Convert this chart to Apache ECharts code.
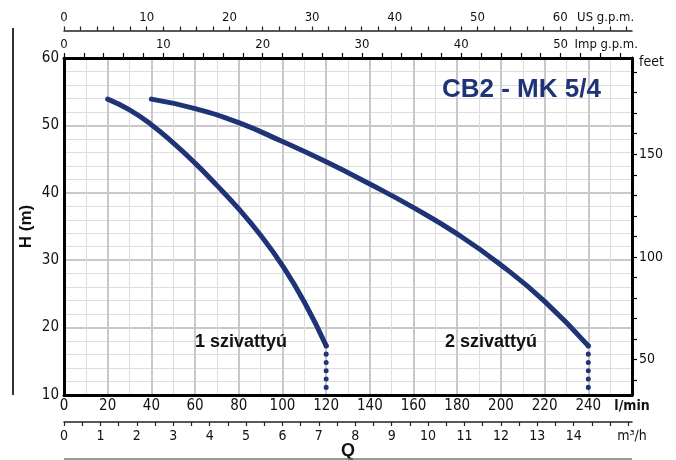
<!DOCTYPE html>
<html><head><meta charset="utf-8">
<script src="https://cdn.jsdelivr.net/npm/echarts@6/dist/echarts.min.js"></script>
<style>html,body{margin:0;padding:0;background:#fff}#c{width:676px;height:460px}</style>
</head><body><div id="c"></div>
<script>
// ---- data ----
const flowSingle = [20, 30, 40, 50, 60, 70, 80, 90, 100, 110, 120];       // l/min
const headSingle = [53.9, 52.3, 50.1, 47.4, 44.4, 41.1, 37.6, 33.7, 29.2, 23.8, 17.3]; // m
const flowDouble = [40, 60, 80, 100, 120, 140, 160, 180, 200, 220, 240];
const headDouble = [53.9, 52.5, 50.4, 47.6, 44.6, 41.3, 37.8, 33.9, 29.3, 23.9, 17.3];
const dropFlowSingle = [120, 120];
const dropFlowDouble = [240, 240];
const dropHead = [17.3, 10];

const seriesNames = ['1 szivattyú', '2 szivattyú'];
const chartTitle = 'CB2 - MK 5/4';

// tick labels
const usLabels = [0, 10, 20, 30, 40, 50, 60];
const impLabels = [0, 10, 20, 30, 40, 50];
const m3hLabels = [0, 1, 2, 3, 4, 5, 6, 7, 8, 9, 10, 11, 12, 13, 14];
const feetLabels = [50, 100, 150];

// unit conversions (l/min -> other units, m -> ft)
const L_PER_USGAL = 3.78541, L_PER_IMPGAL = 4.54609, M3H_PER_LMIN = 0.06, FT_PER_M = 3.28084;
const Q_MIN = 0, Q_MAX = 260, H_MIN = 10, H_MAX = 60;

const COND = '"Liberation Sans Narrow", "DejaVu Sans Condensed", sans-serif';
const BOLD = '"Liberation Sans", Arial, sans-serif';
const BLUE = '#1f3477';

function range(a, b, step) { const r = []; for (let v = a; v <= b + 1e-9; v += step) r.push(+v.toFixed(4)); return r; }

const usMax = Q_MAX / L_PER_USGAL, impMax = Q_MAX / L_PER_IMPGAL, m3hMax = Q_MAX * M3H_PER_LMIN;
const ftMin = H_MIN * FT_PER_M, ftMax = H_MAX * FT_PER_M;
const US_NAME_AT = 65.5, IMP_NAME_AT = 54.6, FEET_NAME_AT = 194.9;

const chart = echarts.init(document.getElementById('c'), null, { renderer: 'canvas' });
chart.setOption({
  animation: false,
  backgroundColor: '#fff',
  grid: { left: 64, right: 44, top: 58, bottom: 65, containLabel: false, outerBoundsMode: 'none' },
  xAxis: [
    { // l/min main axis
      type: 'value', position: 'bottom', min: Q_MIN, max: Q_MAX, interval: 20,
      axisLine: { show: true, onZero: false, lineStyle: { color: '#000', width: 3 } },
      axisTick: { show: false },
      minorTick: { show: false, splitNumber: 2 },
      splitLine: { show: true, lineStyle: { color: '#c8c8c8', width: 2 } },
      minorSplitLine: { show: true, lineStyle: { color: '#dedede', width: 1 } },
      axisLabel: {
        margin: 4, fontFamily: COND, fontSize: 15, color: '#111',
        formatter: v => v === Q_MAX ? '{u|l/min}' : String(v),
        rich: { u: { fontFamily: COND, fontWeight: 'bold', fontSize: 14, color: '#111' } }
      }
    },
    { // Imp g.p.m. (plot top border)
      type: 'value', position: 'top', offset: 0, min: 0, max: impMax,
      axisLine: { show: true, onZero: false, lineStyle: { color: '#000', width: 3 } },
      axisTick: { show: true, length: 5, customValues: range(0, 56, 2), lineStyle: { color: '#000', width: 1.2 } },
      splitLine: { show: false },
      axisLabel: {
        margin: 7, fontFamily: COND, fontSize: 13, color: '#111',
        customValues: impLabels.concat([IMP_NAME_AT]),
        formatter: v => v === IMP_NAME_AT ? 'Imp g.p.m.' : String(v)
      }
    },
    { // US g.p.m.
      type: 'value', position: 'top', offset: 27.5, min: 0, max: usMax,
      axisLine: { show: true, onZero: false, lineStyle: { color: '#222', width: 1.5 } },
      axisTick: { show: true, length: 4, customValues: range(0, 68, 2), lineStyle: { color: '#222', width: 1.2 } },
      splitLine: { show: false },
      axisLabel: {
        margin: 6, fontFamily: COND, fontSize: 13, color: '#111',
        customValues: usLabels.concat([US_NAME_AT]),
        formatter: v => v === US_NAME_AT ? 'US g.p.m.' : String(v)
      }
    },
    { // m3/h
      type: 'value', position: 'bottom', offset: 27, min: 0, max: m3hMax,
      name: 'Q', nameLocation: 'middle', nameGap: 20, nameMoveOverlap: false,
      nameTextStyle: { fontFamily: BOLD, fontWeight: 'bold', fontSize: 18, color: '#111' },
      axisLine: { show: true, onZero: false, lineStyle: { color: '#222', width: 1.5 } },
      axisTick: { show: true, length: 4, customValues: range(0, 15.5, 0.5), lineStyle: { color: '#222', width: 1.2 } },
      splitLine: { show: false },
      axisLabel: {
        margin: 7, fontFamily: COND, fontSize: 14, color: '#111',
        customValues: m3hLabels.concat([m3hMax]),
        formatter: v => v === m3hMax ? 'm³/h' : String(v)
      }
    }
  ],
  yAxis: [
    {
      type: 'value', position: 'left', min: H_MIN, max: H_MAX, interval: 10,
      name: 'H (m)', nameLocation: 'middle', nameGap: 29, nameRotate: 90, nameMoveOverlap: false,
      nameTextStyle: { fontFamily: BOLD, fontWeight: 'bold', fontSize: 17, color: '#111' },
      axisLine: { show: true, onZero: false, lineStyle: { color: '#000', width: 3 } },
      axisTick: { show: false },
      minorTick: { show: false, splitNumber: 5 },
      splitLine: { show: true, lineStyle: { color: '#c8c8c8', width: 2 } },
      minorSplitLine: { show: true, lineStyle: { color: '#dedede', width: 1 } },
      axisLabel: { margin: 5, fontFamily: COND, fontSize: 15, color: '#111' }
    },
    {
      type: 'value', position: 'right', min: ftMin, max: ftMax,
      axisLine: { show: true, onZero: false, lineStyle: { color: '#000', width: 3 } },
      axisTick: { show: true, length: 5, customValues: range(40, 190, 10), lineStyle: { color: '#000', width: 1.2 } },
      splitLine: { show: false },
      axisLabel: {
        margin: 7, fontFamily: COND, fontSize: 14, color: '#111',
        customValues: feetLabels.concat([FEET_NAME_AT]),
        formatter: v => v === FEET_NAME_AT ? 'feet' : String(v)
      }
    }
  ],
  series: [
    { name: seriesNames[0], type: 'line', smooth: 0.5, showSymbol: false, symbol: 'none',
      data: flowSingle.map((q, i) => [q, headSingle[i]]),
      lineStyle: { color: BLUE, width: 5, cap: 'round' } },
    { name: seriesNames[1], type: 'line', smooth: 0.5, showSymbol: false, symbol: 'none',
      data: flowDouble.map((q, i) => [q, headDouble[i]]),
      lineStyle: { color: BLUE, width: 5, cap: 'round' } },
    { type: 'line', showSymbol: false, symbol: 'none',
      data: dropFlowSingle.map((q, i) => [q, dropHead[i]]),
      lineStyle: { color: BLUE, width: 5, type: [0.1, 8.2], cap: 'round' } },
    { type: 'line', showSymbol: false, symbol: 'none',
      data: dropFlowDouble.map((q, i) => [q, dropHead[i]]),
      lineStyle: { color: BLUE, width: 5, type: [0.1, 8.2], cap: 'round' } }
  ],
  graphic: [
    { type: 'text', z: 100, left: 442, top: 77, style: { text: chartTitle, fontFamily: BOLD, fontWeight: 'bold', fontSize: 26, fill: BLUE } },
    { type: 'text', z: 100, left: 195, top: 333, style: { text: seriesNames[0], fontFamily: BOLD, fontWeight: 'bold', fontSize: 18, fill: '#111' } },
    { type: 'text', z: 100, left: 445, top: 333, style: { text: seriesNames[1], fontFamily: BOLD, fontWeight: 'bold', fontSize: 18, fill: '#111' } },
    { type: 'line', z: 100, shape: { x1: 13, y1: 28, x2: 13, y2: 395 }, style: { stroke: '#333', lineWidth: 2 } },
    { type: 'line', z: 100, shape: { x1: 64, y1: 459, x2: 632, y2: 459 }, style: { stroke: '#777', lineWidth: 1.5 } }
  ]
});
</script></body></html>
